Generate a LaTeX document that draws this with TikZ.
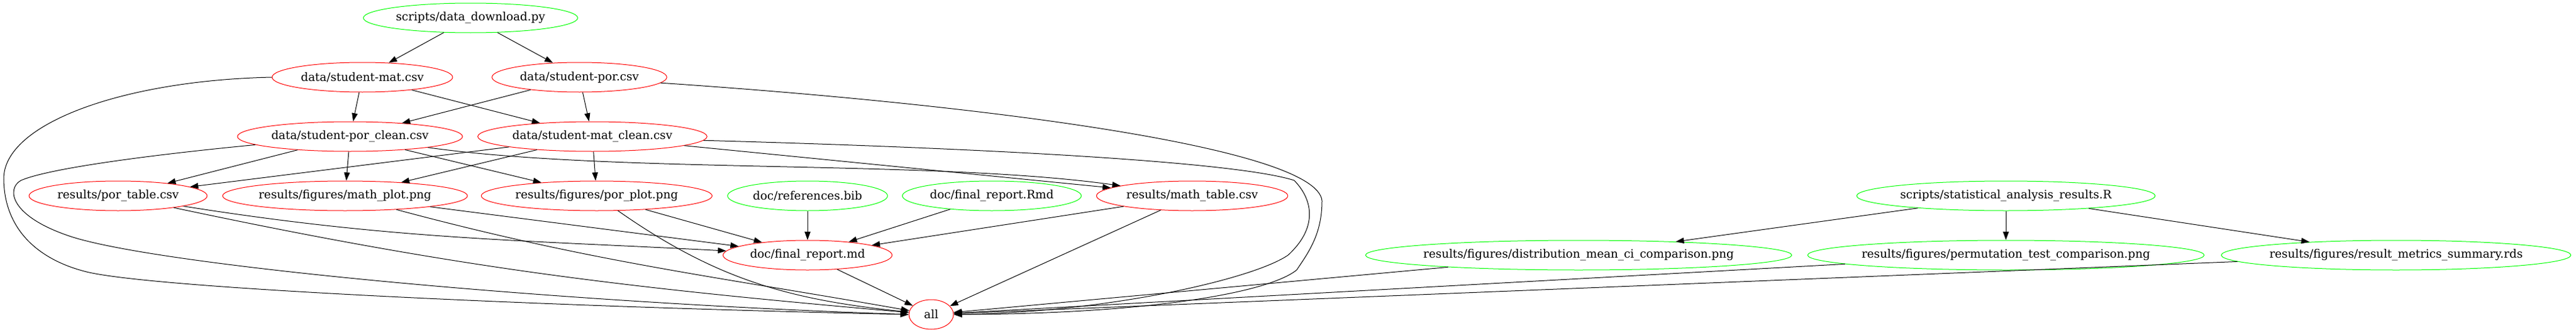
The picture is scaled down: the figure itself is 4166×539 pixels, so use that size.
\documentclass[tikz,border=0pt]{standalone}
\usepackage{fontspec}
\setmainfont{DejaVu Serif}
\usetikzlibrary{shapes.geometric, arrows.meta, positioning}

\definecolor{gvred}{HTML}{FF0000}
\definecolor{gvgreen}{HTML}{00FF00}

\tikzset{
  file/.style = {ellipse, draw, line width=0.75pt, minimum height=36pt,
    inner ysep=0pt, inner xsep=-40pt, font=\fontsize{14}{16}\selectfont},
  gfile/.style = {file, draw=gvgreen},
  rfile/.style = {file, draw=gvred}
}

\begin{document}
\begin{tikzpicture}[x=0.75pt, y=-0.75pt, node distance=72pt, on grid, line width=0.75pt,
    >={Triangle[length=10pt, width=7pt]}]
  \useasboundingbox (0,0) rectangle (4166,539);
  \node[gfile, minimum width=260pt] (dd) at (761,29) {scripts/data\_download.py};
  \node[rfile, minimum width=219pt] [below left=72pt and 131.25pt of dd] (smat) {data/student-mat.csv};
  \node[rfile, minimum width=212pt] [below right=72pt and 132pt of dd] (spor) {data/student-por.csv};
  \node[rfile, minimum width=273pt] [below left=72pt and 15pt of smat] (pclean) {data/student-por\_clean.csv};
  \node[rfile, minimum width=278pt] [below right=72pt and 15.75pt of spor] (mclean) {data/student-mat\_clean.csv};
  \node[rfile, minimum width=297pt] [below left=72pt and 6pt of pclean] (mplot) {results/figures/math\_plot.png};
  \node[rfile, minimum width=216pt] [left=275.25pt of mplot] (ptable) {results/por\_table.csv};
  \node[rfile, minimum width=280pt] [below right=72pt and 5.25pt of mclean] (pplot) {results/figures/por\_plot.png};
  \node[gfile, minimum width=194pt] [right=255.75pt of pplot] (refs) {doc/references.bib};
  \node[gfile, minimum width=217pt] [right=223.5pt of refs] (rmd) {doc/final\_report.Rmd};
  \node[rfile, minimum width=232pt] [right=243pt of rmd] (mtable) {results/math\_table.csv};
  \node[gfile, minimum width=362pt] [right=987pt of mtable] (statR) {scripts/statistical\_analysis\_results.R};
  \node[rfile, minimum width=205pt] [below=of refs] (md) {doc/final\_report.md};
  \node[gfile, minimum width=481pt] [below=of statR] (perm) {results/figures/permutation\_test\_comparison.png};
  \node[gfile, minimum width=517pt] [left=518.25pt of perm] (dist) {results/figures/distribution\_mean\_ci\_comparison.png};
  \node[gfile, minimum width=424pt] [right=473.25pt of perm] (metrics) {results/figures/result\_metrics\_summary.rds};
  \node[rfile, minimum width=54pt] [below right=72pt and 150pt of md] (all) {all};
  \path[->]
    (dd) edge (smat)
         edge (spor)
    (smat) edge (pclean)
           edge (mclean)
    (spor) edge (pclean)
           edge (mclean)
    (pclean) edge (ptable)
             edge (mplot)
             edge (pplot)
             edge [out=-8, in=172, looseness=0.7] (mtable)
    (mclean) edge (ptable)
             edge (mplot)
             edge (pplot)
             edge (mtable)
    (ptable) edge [out=-9, in=177] (md)
             edge [out=-12, in=175] (all)
    (mplot) edge (md)
            edge [out=-15, in=170] (all)
    (pplot) edge (md)
            edge [out=-35, in=174] (all)
    (refs) edge (md)
    (rmd) edge (md)
    (mtable) edge (md)
             edge (all)
    (md) edge (all)
    (statR) edge (dist)
            edge (perm)
            edge (metrics)
    (dist) edge (all)
    (perm) edge (all)
    (metrics) edge (all);
  \draw[->] (smat.west) .. controls (200,130) and (5,200) .. (6,290)
    .. controls (7,370) and (60,420) .. (140,440)
    .. controls (250,467) and (900,497) .. (all.west);
  \draw[->] (pclean.185) .. controls (250,250) and (80,272) .. (34,292)
    .. controls (10,305) and (15,350) .. (115,383)
    .. controls (260,430) and (900,490) .. (all.west);
  \draw[->] (spor.-4) .. controls (1600,170) and (2130,240) .. (2138,325)
    .. controls (2138,380) and (2115,410) .. (2097,437)
    .. controls (2050,475) and (1850,508) .. (all.east);
  \draw[->] (mclean.-2) .. controls (1600,240) and (2000,262) .. (2093,292)
    .. controls (2125,325) and (2130,370) .. (2083,413)
    .. controls (2030,450) and (1800,505) .. (all.east);
\end{tikzpicture}
\end{document}
